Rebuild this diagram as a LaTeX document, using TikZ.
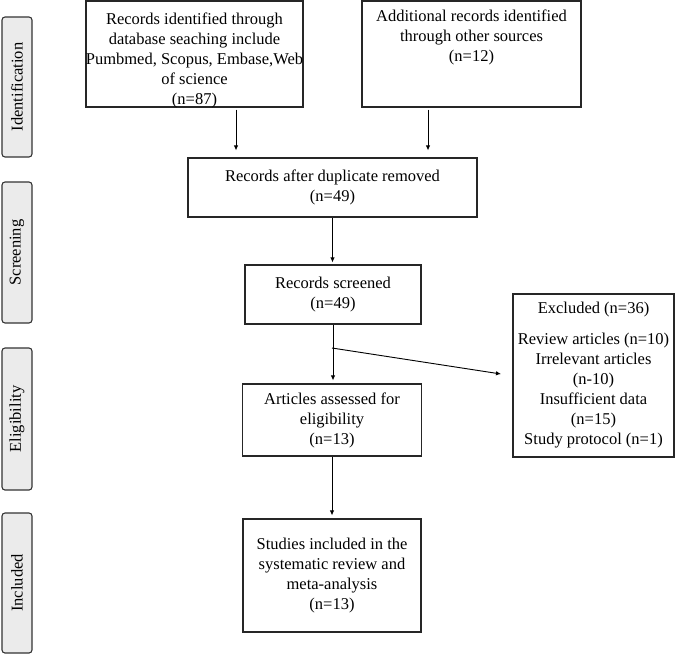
\documentclass[tikz,border=0pt]{standalone}
\usepackage{fontspec}
\setmainfont{Liberation Serif}
\usetikzlibrary{arrows.meta}
\newcommand{\mysize}{\fontsize{16.5}{20}\selectfont}
\begin{document}
\begin{tikzpicture}[x=1pt,y=-1pt,
  stage/.style={draw=black!80,fill=black!8,line width=1.1pt,rounded corners=3pt,
    minimum height=30pt,inner sep=0pt,rotate=90,font=\mysize},
  box/.style={draw=black!85,line width=1.1pt,inner sep=0pt,align=center,font=\mysize},
  txt/.style={inner sep=0pt,align=center,font=\mysize},
  arr/.style={draw=black,line width=0.9pt,-{Latex[length=5pt,width=4.5pt]}}]
\useasboundingbox (0,0) rectangle (676,656);
% stage labels
\node[stage,minimum width=140pt] (ident) at (17,87) {Identification};
\node[stage,minimum width=141pt] (scr) at (17,252.5) {Screening};
\node[stage,minimum width=142pt] (elig) at (17,419) {Eligibility};
\node[stage,minimum width=140pt] (incl) at (17,583) {Included};
% boxes
\node[box,minimum width=217pt,minimum height=106pt] (b1) at (194.5,54) {};
\node[txt] (b1t) at (194.5,60) {Records identified through\\database seaching include\\Pumbmed, Scopus, Embase,Web\\of science\\(n=87)};
\node[box,minimum width=219pt,minimum height=106pt] (b2) at (471.5,54) {};
\node[txt] (b2t) at (471.5,37) {Additional records identified\\through other sources\\(n=12)};
\node[box,minimum width=289pt,minimum height=59pt] (b3) at (332.5,187.5) {Records after duplicate removed\\(n=49)};
\node[box,minimum width=176pt,minimum height=59pt] (rs) at (333,294.5) {Records screened\\(n=49)};
\node[box,minimum width=179pt,minimum height=72pt] (art) at (332,420) {Articles assessed for\\eligibility\\(n=13)};
\node[box,minimum width=178pt,minimum height=113pt] (stu) at (332,575.5) {Studies included in the\\systematic review and\\meta-analysis\\(n=13)};
\node[box,minimum width=161pt,minimum height=163pt] (exc) at (593.5,375.5) {Excluded (n=36)\\[11pt]Review articles (n=10)\\Irrelevant articles\\(n-10)\\Insufficient data\\(n=15)\\Study protocol (n=1)};
% connectors
\draw[arr,shorten <=2pt,shorten >=7pt] ([xshift=41.5pt]b1.south) -- ([xshift=41.5pt]b1.south |- b3.north);
\draw[arr,shorten <=2pt,shorten >=7pt] ([xshift=-43.5pt]b2.south) -- ([xshift=-43.5pt]b2.south |- b3.north);
\draw[arr,shorten >=2pt] (b3.south) -- (b3.south |- rs.north);
\draw[arr,shorten >=3pt] (rs.south) -- (rs.south |- art.north);
\coordinate (br) at (332,348);
\coordinate (brend) at (501,374);
\draw[arr] (br) -- (brend);
\draw[arr,shorten >=3pt] (art.south) -- (art.south |- stu.north);
\end{tikzpicture}
\end{document}
